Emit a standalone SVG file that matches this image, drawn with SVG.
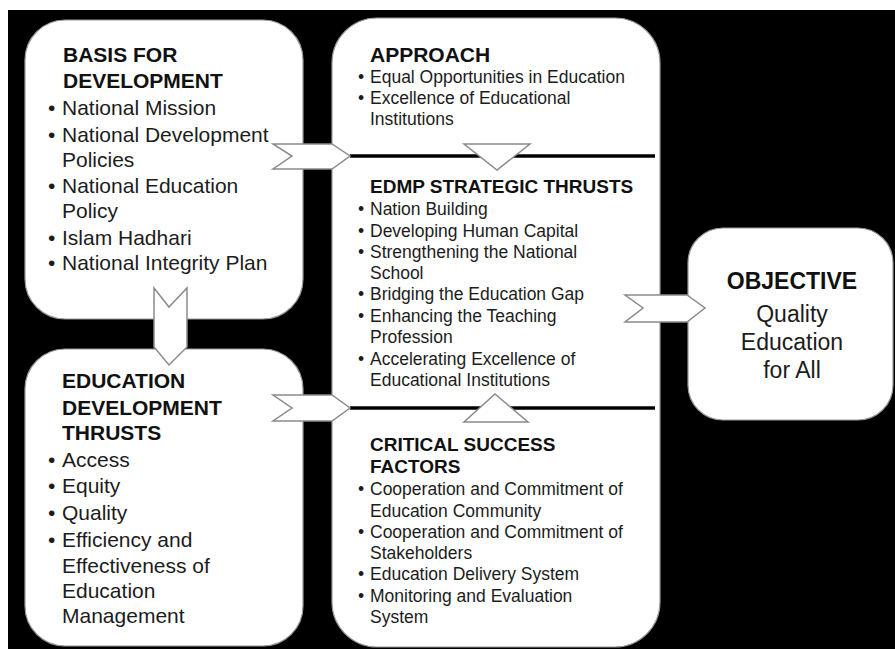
<svg xmlns="http://www.w3.org/2000/svg" width="895" height="649" viewBox="0 0 895 649">
<style>
.box{fill:#fff;stroke:#9a9a9a;stroke-width:1.2}
.arr{fill:#fff;stroke:#8a8a8a;stroke-width:1.5;stroke-linejoin:miter}
.ln{stroke:#000;stroke-width:3.5}
text{font-family:"Liberation Sans",Arial,sans-serif;fill:#1c1c1c}
.h1{font-size:21px;font-weight:bold;fill:#111}
.t1{font-size:21px}
.h2{font-size:19px;font-weight:bold;fill:#111}
.t2{font-size:17.5px}
.h3{font-size:23px;font-weight:bold;fill:#111}
.t3{font-size:23px}
</style>
<rect x="0" y="0" width="895" height="649" fill="#fff"/>
<rect x="8" y="10" width="887" height="639" fill="#000"/>

<g id="basis">
<rect class="box" x="25" y="20" width="278" height="299" rx="40" ry="40"/>
<text class="h1" x="63" y="62">BASIS FOR</text>
<text class="h1" x="63" y="88">DEVELOPMENT</text>
<text class="t1" x="48" y="115">•</text><text class="t1" x="62" y="115">National Mission</text>
<text class="t1" x="48" y="142">•</text><text class="t1" x="62" y="142">National Development</text>
<text class="t1" x="62" y="167">Policies</text>
<text class="t1" x="48" y="193">•</text><text class="t1" x="62" y="193">National Education</text>
<text class="t1" x="62" y="218">Policy</text>
<text class="t1" x="48" y="245">•</text><text class="t1" x="62" y="245">Islam Hadhari</text>
<text class="t1" x="48" y="270">•</text><text class="t1" x="62" y="270">National Integrity Plan</text>
</g>

<g id="thrusts">
<rect class="box" x="25" y="349" width="278" height="297" rx="40" ry="40"/>
<text class="h1" x="62" y="388">EDUCATION</text>
<text class="h1" x="62" y="415">DEVELOPMENT</text>
<text class="h1" x="62" y="440">THRUSTS</text>
<text class="t1" x="48" y="467">•</text><text class="t1" x="62" y="467">Access</text>
<text class="t1" x="48" y="493">•</text><text class="t1" x="62" y="493">Equity</text>
<text class="t1" x="48" y="520">•</text><text class="t1" x="62" y="520">Quality</text>
<text class="t1" x="48" y="547">•</text><text class="t1" x="62" y="547">Efficiency and</text>
<text class="t1" x="62" y="573">Effectiveness of</text>
<text class="t1" x="62" y="598">Education</text>
<text class="t1" x="62" y="623">Management</text>
</g>

<g id="middle">
<rect class="box" x="332" y="18" width="328" height="629" rx="45" ry="45"/>
<text class="h1" x="370" y="62">APPROACH</text>
<text class="t2" x="358" y="83">•</text><text class="t2" x="370" y="83">Equal Opportunities in Education</text>
<text class="t2" x="358" y="104">•</text><text class="t2" x="370" y="104">Excellence of Educational</text>
<text class="t2" x="370" y="125">Institutions</text>
<text class="h2" x="370" y="193">EDMP STRATEGIC THRUSTS</text>
<text class="t2" x="358" y="215">•</text><text class="t2" x="370" y="215">Nation Building</text>
<text class="t2" x="358" y="237">•</text><text class="t2" x="370" y="237">Developing Human Capital</text>
<text class="t2" x="358" y="258">•</text><text class="t2" x="370" y="258">Strengthening the National</text>
<text class="t2" x="370" y="279">School</text>
<text class="t2" x="358" y="300">•</text><text class="t2" x="370" y="300">Bridging the Education Gap</text>
<text class="t2" x="358" y="322">•</text><text class="t2" x="370" y="322">Enhancing the Teaching</text>
<text class="t2" x="370" y="343">Profession</text>
<text class="t2" x="358" y="365">•</text><text class="t2" x="370" y="365">Accelerating Excellence of</text>
<text class="t2" x="370" y="386">Educational Institutions</text>
<text class="h2" x="370" y="451">CRITICAL SUCCESS</text>
<text class="h2" x="370" y="473">FACTORS</text>
<text class="t2" x="358" y="495">•</text><text class="t2" x="370" y="495">Cooperation and Commitment of</text>
<text class="t2" x="370" y="517">Education Community</text>
<text class="t2" x="358" y="538">•</text><text class="t2" x="370" y="538">Cooperation and Commitment of</text>
<text class="t2" x="370" y="559">Stakeholders</text>
<text class="t2" x="358" y="580">•</text><text class="t2" x="370" y="580">Education Delivery System</text>
<text class="t2" x="358" y="602">•</text><text class="t2" x="370" y="602">Monitoring and Evaluation</text>
<text class="t2" x="370" y="623">System</text>
</g>

<g id="objective">
<rect class="box" x="688" y="228" width="205" height="192" rx="35" ry="35"/>
<text class="h3" x="792" y="289" text-anchor="middle">OBJECTIVE</text>
<text class="t3" x="792" y="322" text-anchor="middle">Quality</text>
<text class="t3" x="792" y="350" text-anchor="middle">Education</text>
<text class="t3" x="792" y="378" text-anchor="middle">for All</text>
</g>

<g id="connectors">
<line class="ln" x1="350" y1="156" x2="655" y2="156"/>
<line class="ln" x1="350" y1="408" x2="655" y2="408"/>
<polygon class="arr" points="273,144 332,144 350,156 332,169 273,169 292,156"/>
<polygon class="arr" points="273,395 332,395 350,408 332,421 273,421 292,408"/>
<polygon class="arr" points="154,288 169,307 187,288 187,347 169,365 154,347"/>
<polygon class="arr" points="625,295 687,295 705,308 687,322 625,322 643,308"/>
<polygon class="arr" points="464,144 530,144 497,170"/>
<polygon class="arr" points="495,394 528,422 464,422"/>
</g>
</svg>
